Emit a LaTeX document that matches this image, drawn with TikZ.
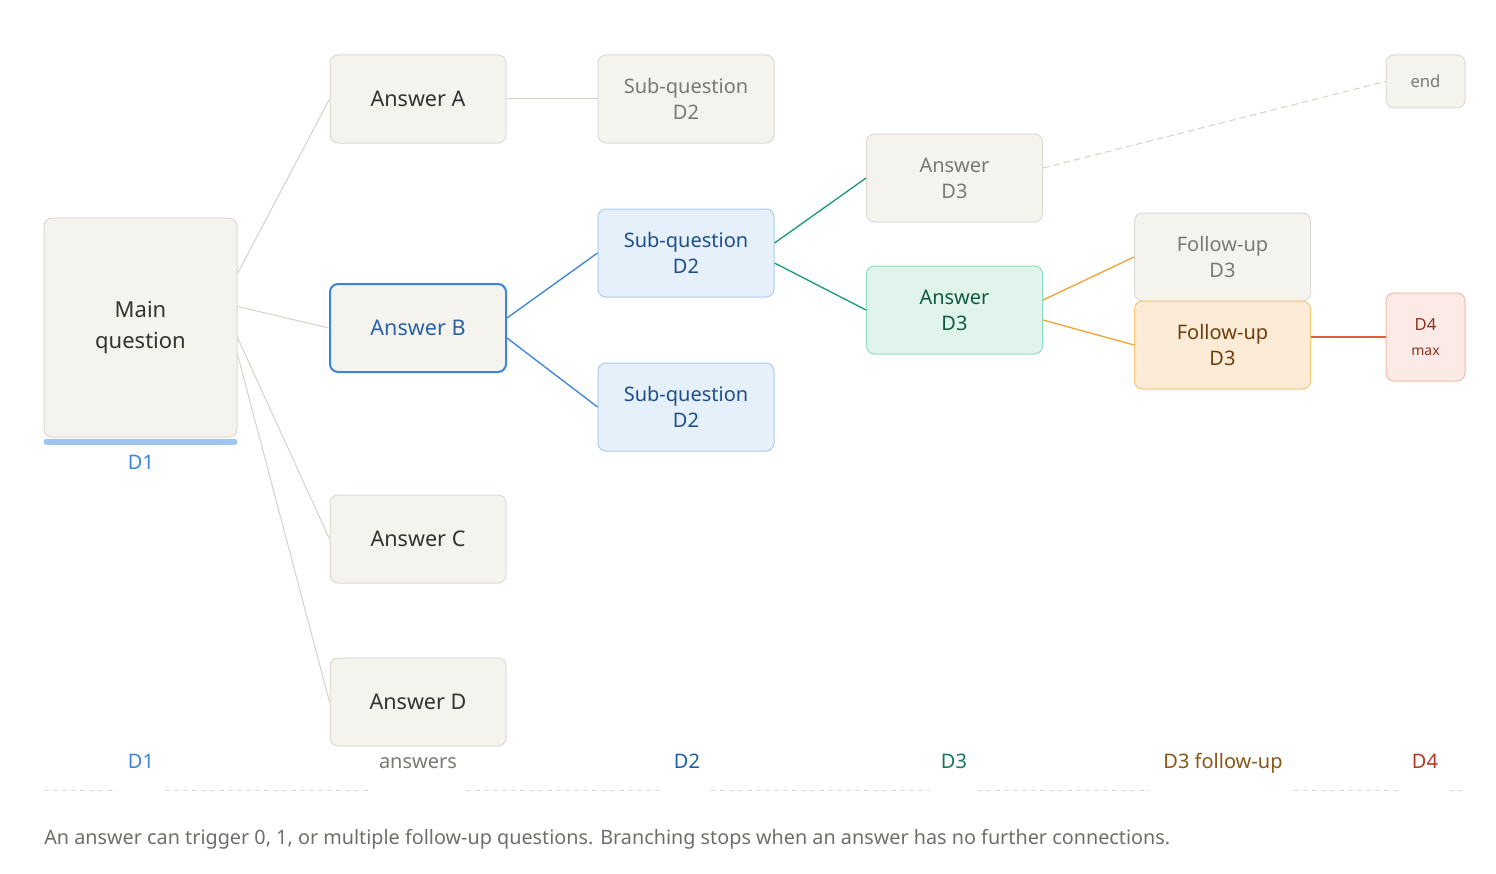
\documentclass[tikz,border=0pt]{standalone}
\usepackage{fontspec}
\setmainfont{Noto Sans}
\usetikzlibrary{calc}
\definecolor{gfill}{HTML}{F4F3EE}
\definecolor{gline}{HTML}{DCDAD2}
\definecolor{gtext}{HTML}{333333}
\definecolor{gmute}{HTML}{7A7A75}
\definecolor{bfill}{HTML}{E6F0FB}
\definecolor{bline}{HTML}{AACCF0}
\definecolor{btext}{HTML}{1F4E8C}
\definecolor{bstrong}{HTML}{3B86DA}
\definecolor{bmid}{HTML}{2B62A8}
\definecolor{nfill}{HTML}{E1F4EC}
\definecolor{nline}{HTML}{8FDDC2}
\definecolor{ntext}{HTML}{0F5A44}
\definecolor{nedge}{HTML}{1E9B74}
\definecolor{ofill}{HTML}{FBEBD7}
\definecolor{oline}{HTML}{F8C674}
\definecolor{otext}{HTML}{6E3F0B}
\definecolor{oedge}{HTML}{F2A33A}
\definecolor{rfill}{HTML}{FBEAE6}
\definecolor{rline}{HTML}{F5BBAA}
\definecolor{rtext}{HTML}{8C3220}
\definecolor{redge}{HTML}{E4603A}
\definecolor{edgegray}{HTML}{D5D2CA}
\definecolor{barblue}{HTML}{9DC5EF}
\definecolor{lblD1}{HTML}{3C87D8}
\definecolor{lblD2}{HTML}{1E5EA8}
\definecolor{lblD3}{HTML}{137A5B}
\definecolor{lblFU}{HTML}{8A5515}
\definecolor{lblD4}{HTML}{B03A22}
\definecolor{rulegray}{HTML}{DADAD6}
\definecolor{capgray}{HTML}{6E6E6A}
\begin{document}
\begin{tikzpicture}[x=0.75pt,y=-0.75pt,
  box/.style={draw=gline, fill=gfill, line width=0.75pt, rounded corners=6pt,
    minimum width=132pt, minimum height=66pt, align=center, inner sep=0pt,
    text=gtext, font=\fontsize{16.2}{19.5}\selectfont},
  twoline/.style={font=\fontsize{15}{19.5}\selectfont},
  mutebox/.style={box, twoline, text=gmute},
  bluebox/.style={box, twoline, draw=bline, fill=bfill, text=btext},
  greenbox/.style={box, twoline, draw=nline, fill=nfill, text=ntext},
  orangebox/.style={box, twoline, draw=oline, fill=ofill, text=otext},
  edge/.style={draw=edgegray, line width=0.75pt},
  lbl/.style={font=\fontsize{15}{18}\selectfont, inner sep=0pt, anchor=base},
  rulesty/.style={draw=rulegray, line width=0.75pt, dash pattern=on 3.75pt off 3pt}
]
\useasboundingbox[fill=white] (0,0) rectangle (1496,874);

% nodes
\node[box, minimum width=144.75pt, minimum height=164.25pt,
  font=\fontsize{16.5}{23}\selectfont] (main) at (140.5,327.5) {Main\\question};
\node[box] (ansA) at (418,99) {Answer A};
\node[box, draw=bstrong, line width=1.5pt, text=bmid] (ansB) at (418,328) {Answer B};
\node[box] (ansC) at (418,539) {Answer C};
\node[box] (ansD) at (418,702) {Answer D};

\node[mutebox] (sqA) at (686,99) {Sub-question\\D2};
\node[bluebox] (sqB1) at (686,253) {Sub-question\\D2};
\node[bluebox] (sqB2) at (686,407) {Sub-question\\D2};

\node[mutebox] (a3g) at (954.5,178) {Answer\\D3};
\node[greenbox] (a3n) at (954.5,310) {Answer\\D3};

\node[mutebox] (fug) at (1222.5,257) {Follow-up\\D3};
\node[orangebox] (fuo) at (1222.5,345) {Follow-up\\D3};

\node[box, draw=rline, fill=rfill, text=rtext, minimum width=59.25pt,
  font=\fontsize{12.5}{16}\selectfont] (d4) at (1425.5,337) {D4\\[3pt]{\fontsize{10.5}{12}\selectfont max}};
\node[box, minimum width=59.25pt, minimum height=39.75pt, text=gmute,
  font=\fontsize{12.5}{15}\selectfont] (endn) at (1425.5,81.5) {end};

% D1 bar under main
\draw[barblue, line width=4.5pt, line cap=round] ($(main.south west)+(3,4)$) -- ($(main.south east)+(-3,4)$);
\node[lbl, text=lblD1] (d1a) at (141,469) {D1};

% connectors
\draw[edge] ($(main.east)+(0,-54)$) -- (ansA.west);
\draw[edge] ($(main.east)+(0,-21)$) -- (ansB.west);
\draw[edge] ($(main.east)+(0,10)$) -- (ansC.west);
\draw[edge] ($(main.east)+(0,27)$) -- (ansD.west);
\draw[edge] (ansA.east) -- (sqA.west);
\draw[bstrong, line width=1pt] ($(ansB.east)+(0,-10)$) -- (sqB1.west);
\draw[bstrong, line width=1pt] ($(ansB.east)+(0,10)$) -- (sqB2.west);
\draw[nedge, line width=1pt] ($(sqB1.east)+(0,-10)$) -- (a3g.west);
\draw[nedge, line width=1pt] ($(sqB1.east)+(0,10)$) -- (a3n.west);
\draw[edgegray, line width=0.75pt, dash pattern=on 5pt off 3pt] ($(a3g.east)+(0,-10)$) -- (endn.west);
\draw[oedge, line width=1pt] ($(a3n.east)+(0,-10)$) -- (fug.west);
\draw[oedge, line width=1pt] ($(a3n.east)+(0,10)$) -- (fuo.west);
\draw[redge, line width=1.2pt] ($(fuo.east)+(0,-8)$) -- (d4.west);

% bottom labels
\node[lbl, text=lblD1] (lb1) at (141,768) {D1};
\node[lbl, text=gmute] (lb2) at (418,768) {answers};
\node[lbl, text=lblD2] (lb3) at (687,768) {D2};
\node[lbl, text=lblD3] (lb4) at (954,768) {D3};
\node[lbl, text=lblFU] (lb5) at (1223,768) {D3 follow-up};
\node[lbl, text=lblD4] (lb6) at (1425,768) {D4};

% dashed rule with gaps
\foreach \a/\b in {44/117,165/369,466/663,711/929,977/1150,1294/1401,1449/1465}
  \draw[rulesty] (\a,790) -- (\b,790);

% caption
\node[lbl, anchor=base west, text=capgray, font=\fontsize{14.85}{18}\selectfont] (cap) at (44,844)
  {An answer can trigger 0, 1, or multiple follow-up questions. Branching stops when an answer has no further connections.};
\end{tikzpicture}
\end{document}
